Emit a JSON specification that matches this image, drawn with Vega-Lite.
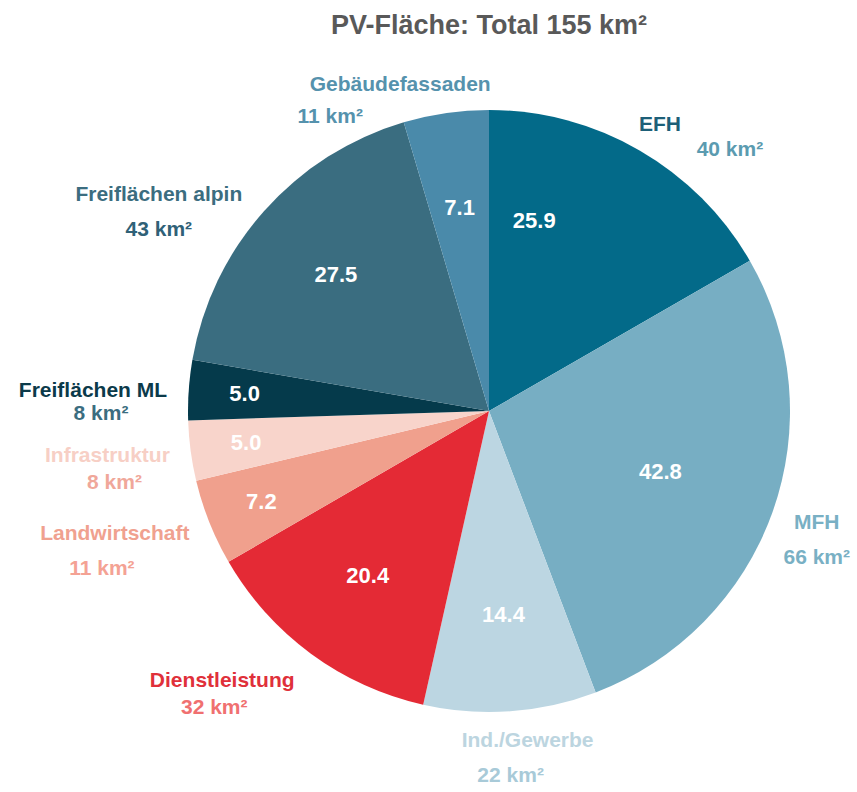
{
  "$schema": "https://vega.github.io/schema/vega-lite/v6.json",
  "autosize": "none",
  "width": 734,
  "height": 730,
  "padding": {"left": 122, "top": 46, "right": 0, "bottom": 16},
  "background": "white",
  "title": {
    "text": "PV-Fläche: Total 155 km²",
    "font": "Liberation Sans",
    "fontSize": 27,
    "fontWeight": "bold",
    "color": "#595959",
    "anchor": "middle",
    "offset": 10,
    "dy": 60
  },
  "data": {
    "values": [
      {"i": 1, "cat": "EFH", "value": 25.9, "label": "40 km²"},
      {"i": 2, "cat": "MFH", "value": 42.8, "label": "66 km²"},
      {"i": 3, "cat": "Ind./Gewerbe", "value": 14.4, "label": "22 km²"},
      {"i": 4, "cat": "Dienstleistung", "value": 20.4, "label": "32 km²"},
      {"i": 5, "cat": "Landwirtschaft", "value": 7.2, "label": "11 km²"},
      {"i": 6, "cat": "Infrastruktur", "value": 5.0, "label": "8 km²"},
      {"i": 7, "cat": "Freiflächen ML", "value": 5.0, "label": "8 km²"},
      {"i": 8, "cat": "Freiflächen alpin", "value": 27.5, "label": "43 km²"},
      {"i": 9, "cat": "Gebäudefassaden", "value": 7.1, "label": "11 km²"}
    ]
  },
  "encoding": {
    "theta": {"field": "value", "type": "quantitative", "stack": true},
    "order": {"field": "i", "type": "quantitative"}
  },
  "layer": [
    {
      "mark": {"type": "arc", "outerRadius": 301},
      "encoding": {
        "color": {
          "field": "cat", "type": "nominal", "legend": null,
          "scale": {
            "domain": ["EFH", "MFH", "Ind./Gewerbe", "Dienstleistung", "Landwirtschaft", "Infrastruktur", "Freiflächen ML", "Freiflächen alpin", "Gebäudefassaden"],
            "range": ["#036a89", "#77aec3", "#bcd6e2", "#e42a35", "#f0a08d", "#f8d4cb", "#053a4b", "#3a6d80", "#4a8aaa"]
          }
        }
      }
    },
    {
      "mark": {"type": "text", "radius": 205, "font": "Liberation Sans", "fontSize": 22, "fontWeight": "bold", "color": "white"},
      "encoding": {
        "text": {"condition": {"test": "indexof(['Ind./Gewerbe','Dienstleistung','Freiflächen alpin','Gebäudefassaden'], datum.cat) >= 0", "field": "value", "type": "quantitative", "format": ".1f"}, "value": ""}
      }
    },
    {
      "mark": {"type": "text", "radius": 182, "font": "Liberation Sans", "fontSize": 22, "fontWeight": "bold", "color": "white"},
      "encoding": {
        "text": {"condition": {"test": "datum.cat == 'MFH'", "field": "value", "type": "quantitative", "format": ".1f"}, "value": ""}
      }
    },
    {
      "mark": {"type": "text", "radius": 195, "thetaOffset": -0.29, "font": "Liberation Sans", "fontSize": 22, "fontWeight": "bold", "color": "white"},
      "encoding": {
        "text": {"condition": {"test": "datum.cat == 'EFH'", "field": "value", "type": "quantitative", "format": ".1f"}, "value": ""}
      }
    },
    {
      "mark": {"type": "text", "radius": 245, "font": "Liberation Sans", "fontSize": 22, "fontWeight": "bold", "color": "white"},
      "encoding": {
        "text": {"condition": {"test": "indexof(['Landwirtschaft','Infrastruktur','Freiflächen ML'], datum.cat) >= 0", "field": "value", "type": "quantitative", "format": ".1f"}, "value": ""}
      }
    },
    {
      "mark": {"type": "text", "radius": 348, "dy": -5, "font": "Liberation Sans", "fontSize": 21, "fontWeight": "bold", "color": "#79b0c4"},
      "encoding": {
        "text": {"condition": {"test": "datum.cat == 'MFH'", "field": "cat", "type": "nominal"}, "value": ""}
      }
    },
    {
      "mark": {"type": "text", "radius": 348, "dy": 30, "font": "Liberation Sans", "fontSize": 21, "fontWeight": "bold", "color": "#79b0c4"},
      "encoding": {
        "text": {"condition": {"test": "datum.cat == 'MFH'", "field": "label", "type": "nominal"}, "value": ""}
      }
    },
    {
      "mark": {"type": "text", "radius": 348, "dx": 14, "dy": -17, "font": "Liberation Sans", "fontSize": 21, "fontWeight": "bold", "color": "#bcd5e0"},
      "encoding": {
        "text": {"condition": {"test": "datum.cat == 'Ind./Gewerbe'", "field": "cat", "type": "nominal"}, "value": ""}
      }
    },
    {
      "mark": {"type": "text", "radius": 348, "dx": -3, "dy": 18, "font": "Liberation Sans", "fontSize": 21, "fontWeight": "bold", "color": "#a8cad8"},
      "encoding": {
        "text": {"condition": {"test": "datum.cat == 'Ind./Gewerbe'", "field": "label", "type": "nominal"}, "value": ""}
      }
    },
    {
      "mark": {"type": "text", "radius": 392, "dx": -10, "dy": -22, "font": "Liberation Sans", "fontSize": 21, "fontWeight": "bold", "color": "#f0a18f"},
      "encoding": {
        "text": {"condition": {"test": "datum.cat == 'Landwirtschaft'", "field": "cat", "type": "nominal"}, "value": ""}
      }
    },
    {
      "mark": {"type": "text", "radius": 392, "dx": -23, "dy": 13, "font": "Liberation Sans", "fontSize": 21, "fontWeight": "bold", "color": "#f4a294"},
      "encoding": {
        "text": {"condition": {"test": "datum.cat == 'Landwirtschaft'", "field": "label", "type": "nominal"}, "value": ""}
      }
    },
    {
      "mark": {"type": "text", "radius": 392, "dx": 7, "dy": -7, "font": "Liberation Sans", "fontSize": 21, "fontWeight": "bold", "color": "#f7cfc5"},
      "encoding": {
        "text": {"condition": {"test": "datum.cat == 'Infrastruktur'", "field": "cat", "type": "nominal"}, "value": ""}
      }
    },
    {
      "mark": {"type": "text", "radius": 392, "dx": 14, "dy": 20, "font": "Liberation Sans", "fontSize": 21, "fontWeight": "bold", "color": "#f0a79a"},
      "encoding": {
        "text": {"condition": {"test": "datum.cat == 'Infrastruktur'", "field": "label", "type": "nominal"}, "value": ""}
      }
    },
    {
      "mark": {"type": "text", "radius": 392, "dx": -5, "dy": 7, "font": "Liberation Sans", "fontSize": 21, "fontWeight": "bold", "color": "#0b3a4a"},
      "encoding": {
        "text": {"condition": {"test": "datum.cat == 'Freiflächen ML'", "field": "cat", "type": "nominal"}, "value": ""}
      }
    },
    {
      "mark": {"type": "text", "radius": 392, "dx": 3, "dy": 30, "font": "Liberation Sans", "fontSize": 21, "fontWeight": "bold", "color": "#3b6d80"},
      "encoding": {
        "text": {"condition": {"test": "datum.cat == 'Freiflächen ML'", "field": "label", "type": "nominal"}, "value": ""}
      }
    },
    {
      "mark": {"type": "text", "radius": 388, "thetaOffset": 0.125, "dy": -12, "font": "Liberation Sans", "fontSize": 21, "fontWeight": "bold", "color": "#e0303a"},
      "encoding": {
        "text": {"condition": {"test": "datum.cat == 'Dienstleistung'", "field": "cat", "type": "nominal"}, "value": ""}
      }
    },
    {
      "mark": {"type": "text", "radius": 388, "thetaOffset": 0.125, "dx": -8, "dy": 15, "font": "Liberation Sans", "fontSize": 21, "fontWeight": "bold", "color": "#f07070"},
      "encoding": {
        "text": {"condition": {"test": "datum.cat == 'Dienstleistung'", "field": "label", "type": "nominal"}, "value": ""}
      }
    },
    {
      "mark": {"type": "text", "radius": 385, "thetaOffset": -0.187, "dy": -18, "font": "Liberation Sans", "fontSize": 21, "fontWeight": "bold", "color": "#3b6d80"},
      "encoding": {
        "text": {"condition": {"test": "datum.cat == 'Freiflächen alpin'", "field": "cat", "type": "nominal"}, "value": ""}
      }
    },
    {
      "mark": {"type": "text", "radius": 385, "thetaOffset": -0.187, "dy": 17, "font": "Liberation Sans", "fontSize": 21, "fontWeight": "bold", "color": "#2f6177"},
      "encoding": {
        "text": {"condition": {"test": "datum.cat == 'Freiflächen alpin'", "field": "label", "type": "nominal"}, "value": ""}
      }
    },
    {
      "mark": {"type": "text", "radius": 343, "thetaOffset": 0.12, "dx": -35, "dy": -12, "font": "Liberation Sans", "fontSize": 21, "fontWeight": "bold", "color": "#1d5f78"},
      "encoding": {
        "text": {"condition": {"test": "datum.cat == 'EFH'", "field": "cat", "type": "nominal"}, "value": ""}
      }
    },
    {
      "mark": {"type": "text", "radius": 343, "thetaOffset": 0.12, "dx": 35, "dy": 13, "font": "Liberation Sans", "fontSize": 21, "fontWeight": "bold", "color": "#5b9bb0"},
      "encoding": {
        "text": {"condition": {"test": "datum.cat == 'EFH'", "field": "label", "type": "nominal"}, "value": ""}
      }
    },
    {
      "mark": {"type": "text", "radius": 334, "thetaOffset": -0.236, "dx": 35, "dy": -16, "font": "Liberation Sans", "fontSize": 21, "fontWeight": "bold", "color": "#5592ad"},
      "encoding": {
        "text": {"condition": {"test": "datum.cat == 'Gebäudefassaden'", "field": "cat", "type": "nominal"}, "value": ""}
      }
    },
    {
      "mark": {"type": "text", "radius": 334, "thetaOffset": -0.236, "dx": -35, "dy": 16, "font": "Liberation Sans", "fontSize": 21, "fontWeight": "bold", "color": "#5592ad"},
      "encoding": {
        "text": {"condition": {"test": "datum.cat == 'Gebäudefassaden'", "field": "label", "type": "nominal"}, "value": ""}
      }
    }
  ],
  "resolve": {"scale": {"color": "independent"}},
  "config": {"view": {"stroke": null}}
}
